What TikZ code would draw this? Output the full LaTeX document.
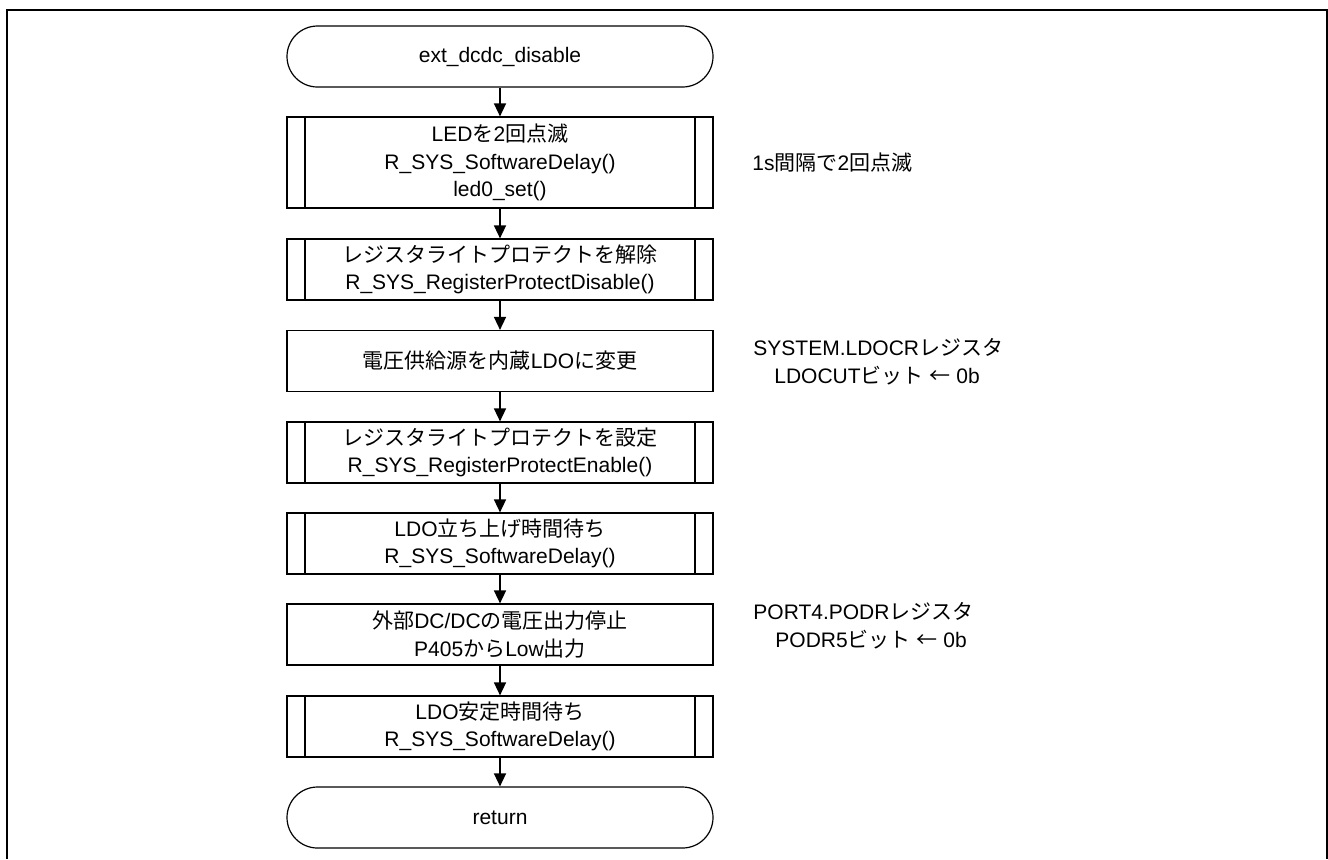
\documentclass[tikz,border=0pt]{standalone}
\usepackage{fontspec}
\setmainfont{Liberation Sans}
\newfontfamily\jpfont{Noto Sans CJK JP}
\newcommand\jp[1]{{\jpfont #1}}
\usetikzlibrary{arrows.meta}
\begin{document}
\begin{tikzpicture}[x=0.5pt,y=-0.5pt,
  base/.style={draw=black, line width=0.6pt, minimum width=213pt, inner sep=0pt, align=center,
    font=\fontsize{10.5}{13.75}\selectfont},
  term/.style={base, minimum height=30.5pt, rounded corners=15.25pt},
  proc/.style={base, minimum height=30.5pt},
  subbox/.style={proc, path picture={
    \draw[line width=0.6pt]
      ([xshift=9pt]path picture bounding box.north west) -- ([xshift=9pt]path picture bounding box.south west)
      ([xshift=-9pt]path picture bounding box.north east) -- ([xshift=-9pt]path picture bounding box.south east);}},
  flow/.style={-{Triangle[length=6.5pt,width=6pt]}, line width=0.75pt},
  note/.style={anchor=west, align=left, inner sep=0pt, font=\fontsize{10.5}{14}\selectfont}
]
\useasboundingbox (0,0) rectangle (1328,859);
\draw[line width=1pt] (7,859) -- (7,10) -- (1326.5,10) -- (1326.5,859);

\node[term] (t0) at (500,56.5) {ext\_dcdc\_disable};
\node[subbox, minimum height=45.5pt] (b1) at (500,162.5) {LED\jp{を}2\jp{回点滅}\\R\_SYS\_SoftwareDelay()\\led0\_set()};
\node[subbox] (b2) at (500,269.5) {\jp{レジスタライトプロテクトを解除}\\R\_SYS\_RegisterProtectDisable()};
\node[proc] (b3) at (500,361) {\jp{電圧供給源を内蔵}LDO\jp{に変更}};
\node[subbox] (b4) at (500,452.5) {\jp{レジスタライトプロテクトを設定}\\R\_SYS\_RegisterProtectEnable()};
\node[subbox] (b5) at (500,543.5) {LDO\jp{立ち上げ時間待ち}\\R\_SYS\_SoftwareDelay()};
\node[proc] (b6) at (500,634.5) {\jp{外部}DC/DC\jp{の電圧出力停止}\\P405\jp{から}Low\jp{出力}};
\node[subbox] (b7) at (500,726.5) {LDO\jp{安定時間待ち}\\R\_SYS\_SoftwareDelay()};
\node[term] (t1) at (500,817.5) {return};

\draw[flow] (t0) -- (b1);
\draw[flow] (b1) -- (b2);
\draw[flow] (b2) -- (b3);
\draw[flow] (b3) -- (b4);
\draw[flow] (b4) -- (b5);
\draw[flow] (b5) -- (b6);
\draw[flow] (b6) -- (b7);
\draw[flow] (b7) -- (t1);

\node[note] (n1) at (752,163) {1s\jp{間隔で}2\jp{回点滅}};
\node[note] (n3) at (753,361.5) {SYSTEM.LDOCR\jp{レジスタ}\\\hspace*{10.5pt}LDOCUT\jp{ビット} \jp{←} 0b};
\node[note] (n6) at (753,626) {PORT4.PODR\jp{レジスタ}\\\hspace*{11pt}PODR5\jp{ビット} \jp{←} 0b};
\end{tikzpicture}
\end{document}
